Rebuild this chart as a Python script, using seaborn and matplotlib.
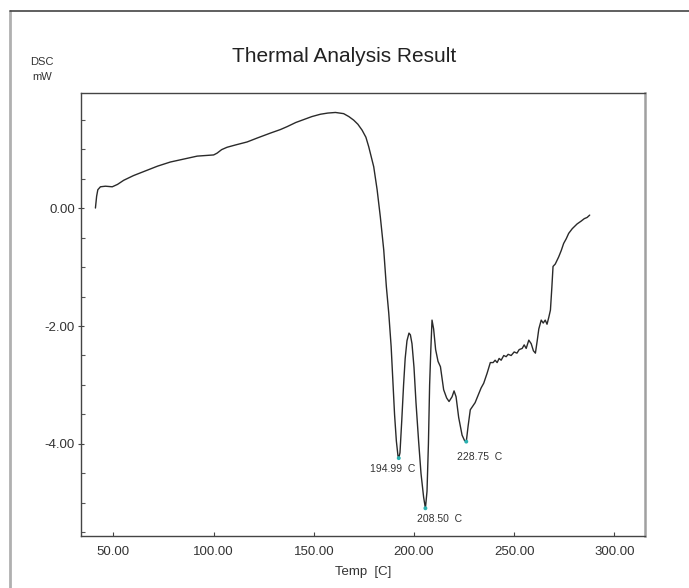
import numpy as np
import pandas as pd
import matplotlib
matplotlib.use("Agg")
import matplotlib.pyplot as plt
import seaborn as sns
from matplotlib.lines import Line2D
from matplotlib.ticker import MultipleLocator, FixedLocator

# ---- data ----
temp = [41.0, 41.6, 42.2, 43.5, 46.0, 49.4, 52.0, 55.1, 60.0, 66.8, 72.0, 78.4, 85.0, 91.8,
        96.0, 100.0, 101.7, 104.0, 106.7, 111.0, 116.7, 122.0, 128.3, 133.3, 136.7, 141.0,
        145.0, 149.0, 153.3, 157.0, 160.8, 164.9, 167.5, 169.9, 172.0, 174.1, 176.0, 177.4,
        179.9, 181.6, 183.2, 184.9, 186.2, 187.4, 188.6, 189.5, 190.3, 191.2, 192.0, 192.4,
        193.0, 193.9, 194.8, 195.6, 196.5, 197.5, 198.2, 199.0, 200.0, 201.0, 202.3, 203.5,
        204.8, 205.7, 206.5, 207.2, 207.8, 208.4, 209.0, 209.8, 210.8, 212.0, 213.2, 214.8,
        216.3, 217.5, 219.0, 220.0, 221.0, 222.3, 224.0, 225.2, 226.1, 227.0, 228.1, 229.5,
        230.5, 232.3, 233.5, 234.8, 236.5, 238.1, 239.5, 240.5, 241.5, 242.5, 243.5, 244.8,
        246.0, 247.0, 248.5, 250.0, 251.4, 252.5, 254.0, 255.0, 256.0, 257.3, 258.5, 259.6,
        260.6, 261.5, 262.3, 263.5, 264.5, 265.5, 266.4, 267.3, 268.1, 268.8, 269.4, 270.5,
        272.2, 273.5, 274.7, 276.0, 277.2, 279.0, 281.4, 283.5, 285.0, 286.4, 287.7]
dsc = [0.00, 0.20, 0.31, 0.36, 0.37, 0.36, 0.40, 0.47, 0.55, 0.64, 0.71, 0.78, 0.83, 0.88,
       0.89, 0.90, 0.93, 0.99, 1.03, 1.07, 1.12, 1.19, 1.27, 1.33, 1.38, 1.45,
       1.50, 1.55, 1.59, 1.61, 1.62, 1.60, 1.55, 1.49, 1.42, 1.32, 1.20, 1.04,
       0.70, 0.31, -0.15, -0.71, -1.33, -1.78, -2.35, -2.95, -3.50, -3.95, -4.20, -4.24,
       -4.15, -3.60, -3.00, -2.55, -2.25, -2.12, -2.15, -2.30, -2.70, -3.30, -3.95, -4.50,
       -4.90, -5.09, -4.80, -4.00, -3.00, -2.40, -1.90, -2.05, -2.40, -2.60, -2.69, -3.08,
       -3.22, -3.28, -3.20, -3.10, -3.20, -3.55, -3.85, -3.94, -3.96, -3.70, -3.42, -3.35,
       -3.30, -3.15, -3.05, -2.97, -2.80, -2.62, -2.62, -2.58, -2.62, -2.55, -2.58, -2.50,
       -2.52, -2.48, -2.50, -2.44, -2.46, -2.40, -2.38, -2.32, -2.38, -2.24, -2.30, -2.42,
       -2.46, -2.25, -2.05, -1.90, -1.95, -1.90, -1.97, -1.85, -1.73, -1.35, -0.99, -0.95,
       -0.83, -0.72, -0.60, -0.52, -0.43, -0.35, -0.27, -0.22, -0.18, -0.16, -0.12]

peak_temp = [192.4, 205.7, 226.1]
peak_dsc = [-4.24, -5.09, -3.96]
peak_labels = ["194.99  C", "208.50  C", "228.75  C"]

x_ticks = [50, 100, 150, 200, 250, 300]
x_ticklabels = ["50.00", "100.00", "150.00", "200.00", "250.00", "300.00"]
y_ticks = [0, -2, -4]
y_ticklabels = ["0.00", "-2.00", "-4.00"]

title = "Thermal Analysis Result"
x_label = "Temp  [C]"
y_label_lines = ["DSC", "mW"]

# ---- style ----
sns.set_style("white")
FONT = ["Liberation Sans Narrow", "Liberation Sans", "DejaVu Sans"]
plt.rcParams["font.family"] = FONT

fig = plt.figure(figsize=(6.89, 5.88), dpi=100)
ax = fig.add_axes([81 / 689, 1 - 536 / 588, (645 - 81) / 689, (536 - 93) / 588])

df = pd.DataFrame({"Temp": temp, "DSC": dsc})
sns.lineplot(data=df, x="Temp", y="DSC", ax=ax, color="#2a2a2a", linewidth=1.0,
             estimator=None, sort=False)
sns.scatterplot(x=peak_temp, y=peak_dsc, ax=ax, color="#2ab0b0", s=8, edgecolor="none", zorder=5)

offsets = [(-6, -11), (14, -11), (13, -15)]
for t, d, lab, off in zip(peak_temp, peak_dsc, peak_labels, offsets):
    ax.annotate(lab, (t, d), xytext=off, textcoords="offset pixels",
                ha="center", va="center", fontsize=7.5, color="#333333")

ax.set_xlim(33.8, 315.3)
ax.set_ylim(-5.56, 1.95)
ax.xaxis.set_major_locator(FixedLocator(x_ticks))
ax.set_xticklabels(x_ticklabels)
ax.yaxis.set_major_locator(FixedLocator(y_ticks))
ax.set_yticklabels(y_ticklabels)
ax.yaxis.set_minor_locator(MultipleLocator(0.5))

ax.tick_params(axis="x", which="major", direction="in", length=3, width=0.8, color="#444444",
               labelsize=9.5, labelcolor="#333333", pad=7, bottom=True)
ax.tick_params(axis="y", which="major", direction="inout", length=5, width=0.8, color="#444444",
               labelsize=9.5, labelcolor="#333333", pad=2, left=True)
ax.tick_params(axis="y", which="minor", direction="in", length=3, width=0.8, color="#555555", left=True)

ax.set_xlabel(x_label, fontsize=9.5, color="#333333", labelpad=6)
ax.set_ylabel("")

for side in ["left", "top", "bottom"]:
    ax.spines[side].set_color("#444444")
    ax.spines[side].set_linewidth(1.0)
ax.spines["right"].set_color("#a0a0a0")
ax.spines["right"].set_linewidth(1.8)

fig.text(0.5, 1 - 57 / 588, title, ha="center", va="center", fontsize=15, color="#222222")
fig.text(30 / 689, 1 - 62 / 588, y_label_lines[0], ha="left", va="center", fontsize=8, color="#333333")
fig.text(32 / 689, 1 - 77 / 588, y_label_lines[1], ha="left", va="center", fontsize=8, color="#333333")

# outer frame (left and top edges)
fig.add_artist(Line2D([10 / 689, 10 / 689], [0, 1 - 11 / 588], transform=fig.transFigure,
                      color="#b0b0b0", linewidth=2))
fig.add_artist(Line2D([10 / 689, 1], [1 - 11 / 588, 1 - 11 / 588], transform=fig.transFigure,
                      color="#444444", linewidth=1.2))

fig.savefig("out.png", dpi=100)
